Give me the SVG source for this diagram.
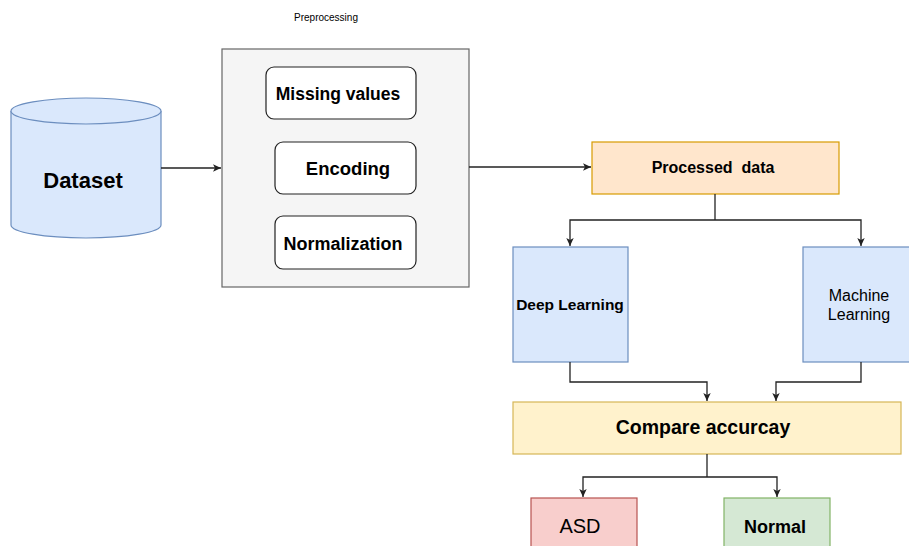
<svg xmlns="http://www.w3.org/2000/svg" width="909" height="546" viewBox="0 0 909 546">
<style>
text{font-family:"Liberation Sans",Arial,sans-serif;fill:#000;text-anchor:middle;white-space:pre}
.b{font-weight:bold}
.conn{fill:none;stroke:#222;stroke-width:1.3}
.inner{fill:#fff;stroke:#222;stroke-width:1.2}
</style>
<defs>
<marker id="ah" markerWidth="9" markerHeight="9" refX="8" refY="4.5" orient="auto" markerUnits="userSpaceOnUse">
<path d="M0,0.8 L8,4.5 L0,8.2 L2,4.5 Z" fill="#222"/>
</marker>
</defs>
<rect width="909" height="546" fill="#fff"/>
<g id="dataset">
<path d="M11,111 L11,225 A75,13 0 0 0 161,225 L161,111" fill="#dae8fc" stroke="#6c8ebf" stroke-width="1.2"/>
<ellipse cx="86" cy="111" rx="75" ry="13" fill="#dae8fc" stroke="#6c8ebf" stroke-width="1.2"/>
<text x="83" y="188" class="b" font-size="22">Dataset</text>
</g>
<g id="preprocessing">
<text x="326" y="21" font-size="10">Preprocessing</text>
<rect x="222" y="49" width="247" height="238" fill="#f5f5f5" stroke="#666" stroke-width="1.2"/>
</g>
<g id="missing">
<rect class="inner" x="266" y="67" width="150" height="52" rx="8"/>
<text x="338" y="100" class="b" font-size="17.5">Missing values</text>
</g>
<g id="encoding">
<rect class="inner" x="275" y="142" width="141" height="52" rx="8"/>
<text x="348" y="175" class="b" font-size="18.5">Encoding</text>
</g>
<g id="normalization">
<rect class="inner" x="275" y="216" width="141" height="53" rx="8"/>
<text x="343" y="250" class="b" font-size="18">Normalization</text>
</g>
<g id="processed">
<rect x="592" y="142" width="247" height="52" fill="#ffe6cc" stroke="#d79b00" stroke-width="1.2"/>
<text x="713" y="173" class="b" font-size="16" xml:space="preserve">Processed  data</text>
</g>
<g id="deep">
<rect x="513" y="247" width="115" height="115" fill="#dae8fc" stroke="#6c8ebf" stroke-width="1.2"/>
<text x="570" y="310" class="b" font-size="15.5">Deep Learning</text>
</g>
<g id="machine">
<rect x="803" y="247" width="120" height="115" fill="#dae8fc" stroke="#6c8ebf" stroke-width="1.2"/>
<text x="859" y="301" font-size="16">Machine</text>
<text x="859" y="320" font-size="16">Learning</text>
</g>
<g id="compare">
<rect x="513" y="402" width="388" height="52" fill="#fff2cc" stroke="#d6b656" stroke-width="1.2"/>
<text x="703" y="434" class="b" font-size="19.5">Compare accurcay</text>
</g>
<g id="asd">
<rect x="531" y="498" width="106" height="60" fill="#f8cecc" stroke="#b85450" stroke-width="1.2"/>
<text x="580" y="533" font-size="20">ASD</text>
</g>
<g id="normal">
<rect x="724" y="498" width="106" height="60" fill="#d5e8d4" stroke="#82b366" stroke-width="1.2"/>
<text x="775" y="533" class="b" font-size="18">Normal</text>
</g>
<g id="connectors">
<path class="conn" d="M161,168 L221,168" marker-end="url(#ah)"/>
<path class="conn" d="M469,167 L591,167" marker-end="url(#ah)"/>
<path class="conn" d="M715,194 L715,220"/>
<path class="conn" d="M715,220 L570,220 L570,246" marker-end="url(#ah)"/>
<path class="conn" d="M715,220 L861,220 L861,246" marker-end="url(#ah)"/>
<path class="conn" d="M570,362 L570,382 L707,382 L707,401" marker-end="url(#ah)"/>
<path class="conn" d="M861,362 L861,382 L776,382 L776,401" marker-end="url(#ah)"/>
<path class="conn" d="M707,454 L707,477"/>
<path class="conn" d="M707,477 L583,477 L583,497" marker-end="url(#ah)"/>
<path class="conn" d="M707,477 L777,477 L777,497" marker-end="url(#ah)"/>
</g>
</svg>
